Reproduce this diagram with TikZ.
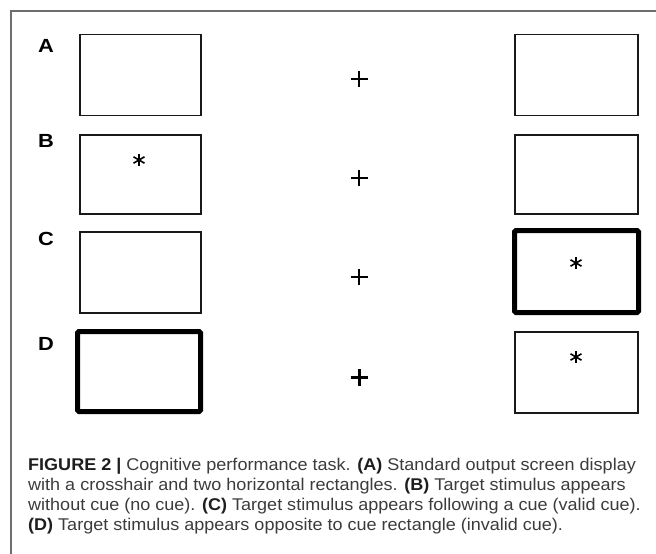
\documentclass[tikz,border=0pt]{standalone}
\usepackage{fontspec}
\setmainfont{Liberation Sans}
\newfontfamily\capfont[FakeStretch=1.06]{Liberation Sans}
\newfontfamily\lblfont[FakeStretch=1.15]{Liberation Sans}
\usetikzlibrary{calc}
\definecolor{framegray}{HTML}{6E6E6E}
\definecolor{captext}{HTML}{3C3C3C}
\definecolor{capbold}{HTML}{1E1E1E}
\begin{document}
\begin{tikzpicture}[x=1pt,y=-1pt,
  box/.style={draw=black!90, line width=1.3pt, minimum width=121pt, minimum height=81pt, inner sep=0pt},
  cuebox/.style={draw=black, line width=5pt, rounded corners=1.5pt, inner sep=0pt},
  lbl/.style={font=\lblfont\bfseries\fontsize{19}{19}\selectfont, inner sep=0pt},
  capline/.style={anchor=base west, inner sep=0pt, text=captext, font=\capfont\fontsize{17}{19.5}\selectfont},
  crossline/.style={line width=1.8pt, black},
  boldcross/.style={line width=3pt, black},
  star/.style={line width=1.6pt, black}]
\useasboundingbox (0,0) rectangle (656,554);
\fill[white] (0,0) rectangle (656,554);
% frame
\coordinate (ftr) at (656,11);
\coordinate (ftl) at (11,11);
\coordinate (fbl) at (11,554);
\draw[framegray, line width=1.1pt] (ftr) -- (ftl) -- (fbl);
% labels
\node[lbl] (la) at (46,45.5) {A};
\node[lbl] (lb) at (46,141) {B};
\node[lbl] (lc) at (46,238.5) {C};
\node[lbl] (ld) at (46,344) {D};
% left boxes
\node[box] (a1) at (140.5,75) {};
\node[box, minimum height=79pt] (b1) at (140.5,174.5) {};
\node[box] (c1) at (140.5,272.5) {};
\node[cuebox, minimum width=123pt, minimum height=80pt] (d1) at (139,371.5) {};
% right boxes
\node[box, minimum width=123pt] (a2) at (576.5,75) {};
\node[box, minimum width=123pt, minimum height=79pt] (b2) at (576.5,174.5) {};
\node[cuebox, minimum width=124pt, minimum height=82pt] (c2) at (576.5,271.5) {};
\node[box, minimum width=123pt] (d2) at (576.5,372.5) {};
% crosshairs
\foreach \n/\yy in {ca/79, cb/178, cc/277} {
  \coordinate (\n) at (359,\yy);
  \draw[crossline] ([xshift=-8.5pt]\n) -- ([xshift=8.5pt]\n);
  \draw[crossline] ([yshift=-8pt]\n) -- ([yshift=8.5pt]\n);
}
\coordinate (cd) at (359,377);
\draw[boldcross] ([xshift=-8.5pt]cd) -- ([xshift=8.5pt]cd);
\draw[boldcross] ([yshift=-8.5pt]cd) -- ([yshift=8.5pt]cd);
% asterisks (targets)
\foreach \n/\xx/\yy in {sb/139/160, sc/576/263, sd/576/357} {
  \coordinate (\n) at (\xx,\yy);
  \draw[star] ([yshift=-6pt]\n) -- ([yshift=6pt]\n);
  \draw[star] ($(\n)+(-5.5,-3.2)$) -- ($(\n)+(5.5,3.2)$);
  \draw[star] ($(\n)+(-5.5,3.2)$) -- ($(\n)+(5.5,-3.2)$);
}
% caption
\node[capline] (cap1) at (28,470) {{\color{capbold}\bfseries FIGURE 2 |} Cognitive performance task. {\color{capbold}\bfseries (A)} Standard output screen display};
\node[capline] (cap2) at (28,490) {with a crosshair and two horizontal rectangles. {\color{capbold}\bfseries (B)} Target stimulus appears};
\node[capline] (cap3) at (28,510) {without cue (no cue). {\color{capbold}\bfseries (C)} Target stimulus appears following a cue (valid cue).};
\node[capline] (cap4) at (28,530) {{\color{capbold}\bfseries (D)} Target stimulus appears opposite to cue rectangle (invalid cue).};
\end{tikzpicture}
\end{document}
